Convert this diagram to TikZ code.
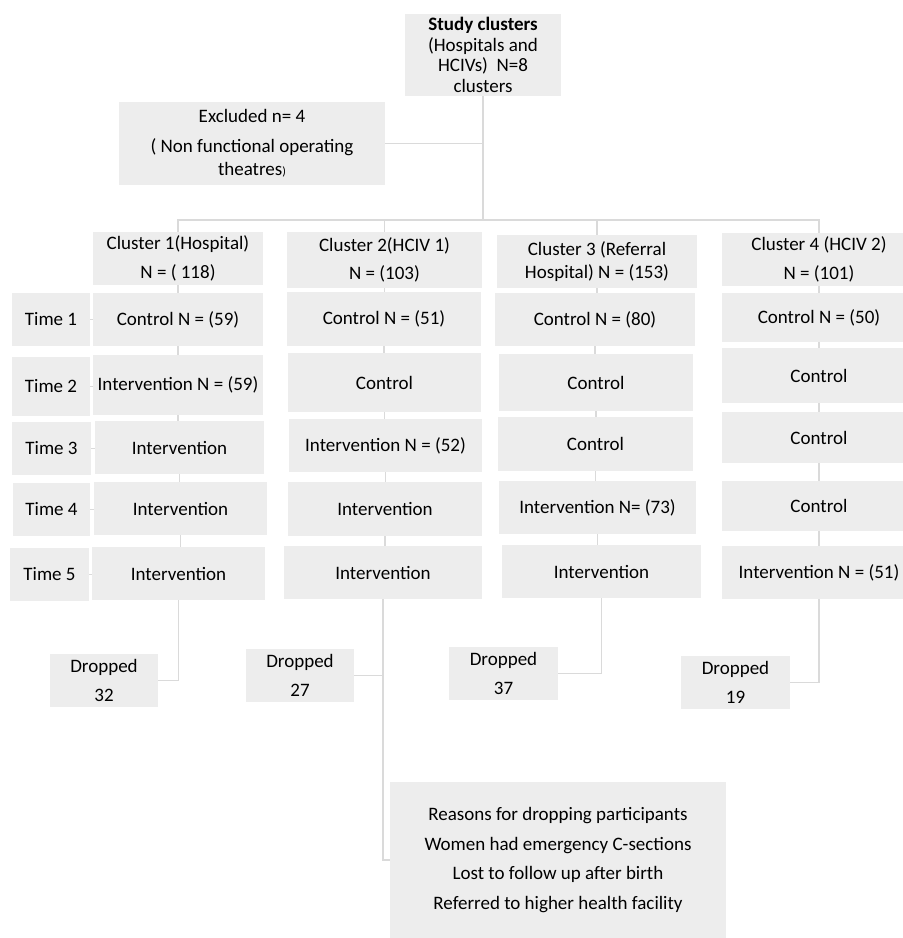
\documentclass[tikz,border=0pt]{standalone}
\usepackage{fontspec}
\setmainfont{Carlito}
\usepackage{tikz}
\usetikzlibrary{calc}
\definecolor{cellgray}{RGB}{237,237,237}
\definecolor{linegray}{RGB}{218,218,218}
\tikzset{
  cell/.style={fill=cellgray, align=center, inner sep=0pt, font=\fontsize{19}{28.5}\selectfont},
  link/.style={draw=linegray, line width=1.6pt}
}
\def\cellbox[#1](#2)(#3,#4)(#5,#6)#7{\node[cell, #1, minimum width={#5pt-#3pt}, minimum height={#6pt-#4pt}] (#2) at ({(#3+#5)/2},{(#4+#6)/2}) {#7};}

\begin{document}
\begin{tikzpicture}[x=1pt, y=-1pt]
		%%%%% START %%%%%
		\clip (0,0) rectangle (903,938);
		\fill[white] (0,0) rectangle (903,938);
		
		\cellbox[font=\fontsize{19}{20.5}\selectfont](study)(405,14)(561,96){\textbf{Study clusters}\\(Hospitals and\\HCIVs)~ N=8\\clusters}
		\cellbox[font=\fontsize{19}{30}\selectfont](excl)(119,102)(385,185){Excluded n= 4\\( Non functional operating\\[-7pt]theatres{\fontsize{12}{12}\selectfont)}}
		\coordinate (hub) at (483,220);
		
		\cellbox[](k1)(93,232)(263,285){Cluster 1(Hospital)\\N = ( 118)}
		\cellbox[](k2)(287,232)(482,288){Cluster 2(HCIV 1)\\N = (103)}
		\cellbox[font=\fontsize{19}{22.5}\selectfont](k3)(497,235)(697,288){Cluster 3 (Referral\\Hospital) N = (153)}
		\cellbox[](k4)(722,233)(916,286){Cluster 4 (HCIV 2)\\N = (101)}
		
		\cellbox[](t1)(12,293)(90,346){Time 1}
		\cellbox[](t2)(12,357)(90,416){Time 2}
		\cellbox[](t3)(12,422)(91,475){Time 3}
		\cellbox[](t4)(13,483)(90,536){Time 4}
		\cellbox[](t5)(10,548)(89,601){Time 5}
		
		\cellbox[](r11)(93,293)(263,346){Control N = (59)}
		\cellbox[](r12)(93,355)(263,415){Intervention N = (59)}
		\cellbox[](r13)(95,421)(264,474){Intervention}
		\cellbox[](r14)(94,482)(267,535){Intervention}
		\cellbox[](r15)(92,547)(265,600){Intervention}
		
		\cellbox[](r21)(287,292)(481,346){Control N = (51)}
		\cellbox[](r22)(288,353)(481,412){Control}
		\cellbox[](r23)(289,419)(482,472){Intervention N = (52)}
		\cellbox[](r24)(288,482)(482,536){Intervention}
		\cellbox[](r25)(284,546)(482,599){Intervention}
		
		\cellbox[](r31)(495,293)(695,346){Control N = (80)}
		\cellbox[](r32)(499,354)(693,411){Control}
		\cellbox[](r33)(498,417)(693,471){Control}
		\cellbox[](r34)(499,481)(696,534){Intervention N= (73)}
		\cellbox[](r35)(502,545)(701,598){Intervention}
		
		\cellbox[](r41)(722,293)(916,342){Control N = (50)}
		\cellbox[](r42)(722,348)(916,403){Control}
		\cellbox[](r43)(722,412)(916,463){Control}
		\cellbox[](r44)(722,481)(916,531){Control}
		\cellbox[](r45)(722,546)(916,599){Intervention N = (51)}
		
		\cellbox[](d1)(50,654)(158,707){Dropped\\32}
		\cellbox[](d2)(246,649)(354,702){Dropped\\27}
		\cellbox[](d3)(449,647)(558,700){Dropped\\37}
		\cellbox[](d4)(681,656)(790,709){Dropped\\19}
		
		\cellbox[font=\fontsize{19}{29.5}\selectfont](why)(390,782)(726,938){Reasons for dropping participants\\Women had emergency C-sections\\Lost to follow up after birth\\Referred to higher health facility}
		
		% tree on top
		\draw[link] (study.south) -- (hub);
		\draw[link] (excl.east) -- (excl.east -| hub);
		\draw[link] (k1.north) |- (hub) -| (k4.north);
		\draw[link] (hub) -| (k2.north);
		\draw[link] (hub) -| (k3.north);
		
		% ticks down each column
		\foreach \col in {1,...,4} {
			\draw[link] (k\col.south) -- (k\col.south |- r\col1.north);
			\foreach \row [count=\nxt from 2] in {1,...,4}
				\draw[link] (r\col\row.south) -- (r\col\row.south |- r\col\nxt.north);
		}
		\foreach \row in {1,...,5}
			\draw[link] (t\row.east) -- (t\row.east -| r1\row.west);
		
		% drop outs
		\draw[link] (r15.south) |- (d1.east);
		\draw[link] (r25.south) |- (why.west);
		\draw[link] (d2.east) -- (d2.east -| r25.south);
		\draw[link] (r35.south) |- (d3.east);
		\draw[link] (r45.south) |- (d4.east);
		
		%%%%% END %%%%%
\end{tikzpicture}
\end{document}
